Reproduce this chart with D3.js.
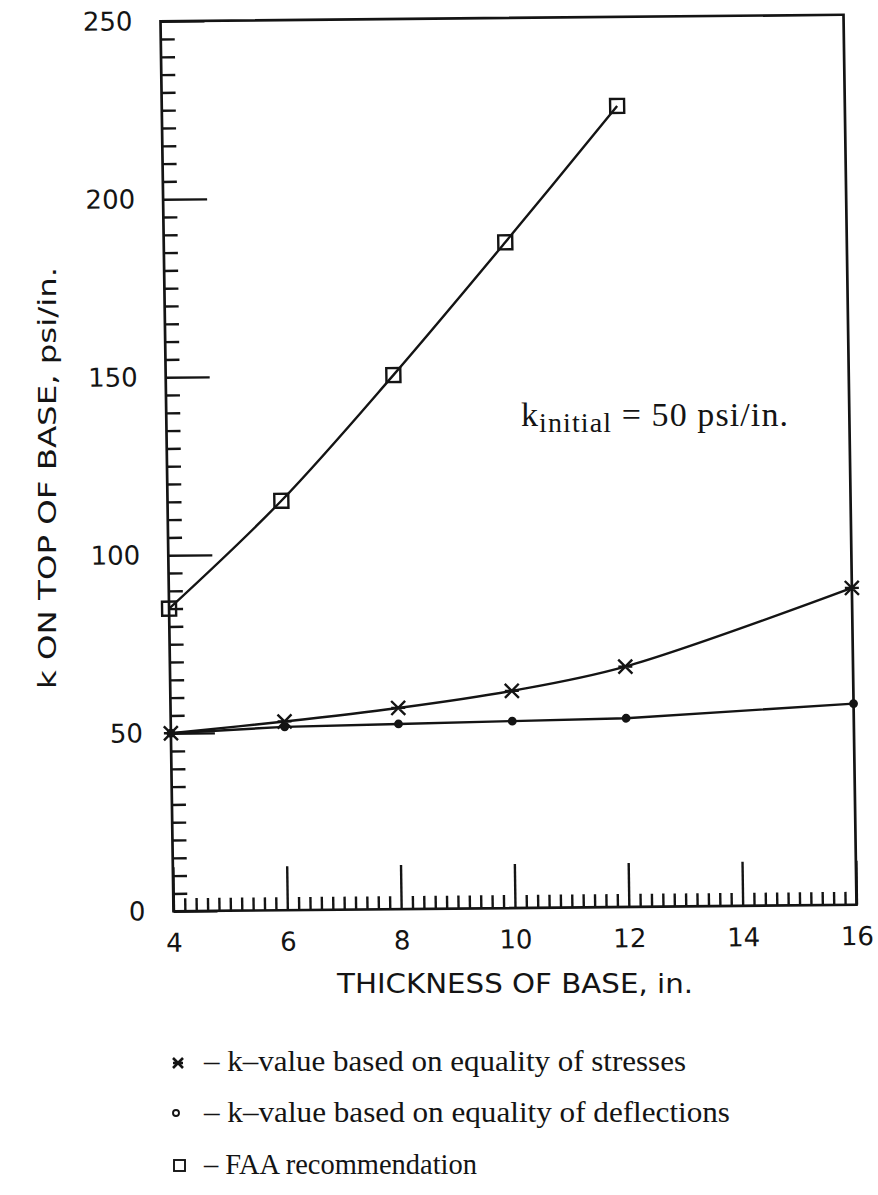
<!DOCTYPE html>
<html>
<head>
<meta charset="utf-8">
<script src="https://cdn.jsdelivr.net/npm/d3@7"></script>
<style>
  html, body { margin: 0; padding: 0; background: #fff; }
  svg { display: block; }
</style>
</head>
<body>
<svg id="chart" width="878" height="1195"></svg>
<script>
// Base thickness (in.) at which the k-values were evaluated
const thickness = [4, 6, 8, 10, 12, 16];
// k-value based on equality of stresses (psi/in.)
const stressK = [50, 53, 56.5, 61, 67.5, 89];
// k-value based on equality of deflections (psi/in.)
const deflectionK = [50, 51.5, 52, 52.5, 53, 56.5];
// FAA recommendation
const faaThickness = [4, 6, 8, 10, 12];
const faaK = [85, 115, 150, 187, 225];

const xMajorTicks = [4, 6, 8, 10, 12, 14, 16];
const yMajorTicks = [0, 50, 100, 150, 200, 250];

const xTitle = "THICKNESS OF BASE, in.";
const yTitle = "k ON TOP OF BASE, psi/in.";
const legendLabels = [
  "\u2013 k\u2013value based on equality of stresses",
  "\u2013 k\u2013value based on equality of deflections",
  "\u2013 FAA recommendation"
];

const svg = d3.select("#chart");
const W = 683, H = 890;
const x = d3.scaleLinear().domain([4, 16]).range([0, W]);
const y = d3.scaleLinear().domain([0, 250]).range([H, 0]);

// plot area, slightly tilted like the printed page
const plot = svg.append("g")
  .attr("transform", "matrix(1,-0.0095,0.0146,1,160.5,21.25)");

const sans = "'DejaVu Sans', Verdana, sans-serif";
const serif = "'Liberation Serif', 'Times New Roman', serif";
const ink = "#141414";

function styleAxis(g) {
  g.select(".domain").remove();
  g.selectAll(".tick line").attr("stroke", ink).attr("stroke-width", 2.4);
  g.selectAll("text").attr("fill", ink).attr("font-family", sans)
    .attr("font-size", 26);
}

// y axis: minor ticks every 5, major every 50, drawn inward
const yMinor = d3.range(0, 251, 5).filter(v => v % 50 !== 0);
plot.append("g")
  .call(d3.axisLeft(y).tickValues(yMinor).tickSize(-14).tickFormat(""))
  .call(styleAxis);
plot.append("g")
  .call(d3.axisLeft(y).tickValues(yMajorTicks).tickSize(-44).tickPadding(28).tickFormat(d3.format("d")))
  .call(styleAxis);

// x axis: minor ticks every 0.2, major every 2, drawn inward
const xMinor = d3.range(0, 61).map(i => +(4 + i * 0.2).toFixed(1))
  .filter(v => Math.abs(v / 2 - Math.round(v / 2)) > 1e-6);
plot.append("g").attr("transform", `translate(0,${H})`)
  .call(d3.axisBottom(x).tickValues(xMinor).tickSize(-13).tickFormat(""))
  .call(styleAxis);
plot.append("g").attr("transform", `translate(0,${H})`)
  .call(d3.axisBottom(x).tickValues(xMajorTicks).tickSize(-44).tickPadding(22).tickFormat(d3.format("d")))
  .call(styleAxis);

// frame
plot.append("rect")
  .attr("x", 0).attr("y", 0).attr("width", W).attr("height", H)
  .attr("fill", "none").attr("stroke", ink).attr("stroke-width", 2.7);

// series lines
const smooth = d3.line().x(d => x(d[0])).y(d => y(d[1])).curve(d3.curveCatmullRom.alpha(0.5));
const straight = d3.line().x(d => x(d[0])).y(d => y(d[1]));

const stressPts = thickness.map((t, i) => [t, stressK[i]]);
const deflPts = thickness.map((t, i) => [t, deflectionK[i]]);
const faaPts = faaThickness.map((t, i) => [t, faaK[i]]);

[[smooth, faaPts], [smooth, stressPts], [straight, deflPts]].forEach(([gen, pts]) => {
  plot.append("path").attr("d", gen(pts))
    .attr("fill", "none").attr("stroke", ink).attr("stroke-width", 2.4);
});

// markers
const starPath = "M-7,-7L7,7M-7,7L7,-7M-7,0L7,0";
plot.append("g").selectAll("path").data(stressPts).join("path")
  .attr("transform", d => `translate(${x(d[0])},${y(d[1])})`)
  .attr("d", starPath).attr("stroke", ink).attr("stroke-width", 2.4).attr("fill", "none");

plot.append("g").selectAll("circle").data(deflPts).join("circle")
  .attr("cx", d => x(d[0])).attr("cy", d => y(d[1])).attr("r", 4.4)
  .attr("fill", ink);

plot.append("g").selectAll("rect").data(faaPts).join("rect")
  .attr("x", d => x(d[0]) - 7).attr("y", d => y(d[1]) - 7)
  .attr("width", 14).attr("height", 14)
  .attr("fill", "none").attr("stroke", ink).attr("stroke-width", 2.4);

// axis titles
svg.append("text")
  .attr("x", 515).attr("y", 993)
  .attr("text-anchor", "middle")
  .attr("font-family", sans).attr("font-size", 26).attr("fill", ink)
  .attr("textLength", 356).attr("lengthAdjust", "spacingAndGlyphs")
  .text(xTitle);

svg.append("text")
  .attr("transform", "translate(56,478) rotate(-90)")
  .attr("text-anchor", "middle")
  .attr("font-family", sans).attr("font-size", 25).attr("fill", ink)
  .attr("textLength", 422).attr("lengthAdjust", "spacingAndGlyphs")
  .text(yTitle);

// annotation
const note = svg.append("text")
  .attr("x", 521).attr("y", 426)
  .attr("font-family", serif).attr("font-size", 34).attr("fill", ink)
  .attr("textLength", 267).attr("lengthAdjust", "spacing");
note.append("tspan").text("k");
note.append("tspan").attr("font-size", 28).attr("dy", 6).text("initial");
note.append("tspan").attr("dy", -6).text(" =  50 psi/in.");

// legend
const legendY = [1071, 1122, 1174];
const legendWidths = [482, 526, 273];
const lg = svg.append("g");
lg.append("path").attr("transform", `translate(178,${legendY[0] - 8})`)
  .attr("d", "M-5,-5L5,5M-5,5L5,-5M-5,0L5,0")
  .attr("stroke", ink).attr("stroke-width", 2.6).attr("fill", "none");
lg.append("circle").attr("cx", 176).attr("cy", legendY[1] - 9).attr("r", 3)
  .attr("fill", "none").attr("stroke", ink).attr("stroke-width", 1.9);
lg.append("rect").attr("x", 174).attr("y", legendY[2] - 14).attr("width", 11).attr("height", 11)
  .attr("fill", "none").attr("stroke", ink).attr("stroke-width", 1.9);

lg.selectAll("text").data(legendLabels).join("text")
  .attr("x", 204).attr("y", (d, i) => legendY[i])
  .attr("font-family", serif).attr("font-size", 30).attr("fill", ink)
  .attr("textLength", (d, i) => legendWidths[i]).attr("lengthAdjust", "spacingAndGlyphs")
  .text(d => d);
</script>
</body>
</html>
